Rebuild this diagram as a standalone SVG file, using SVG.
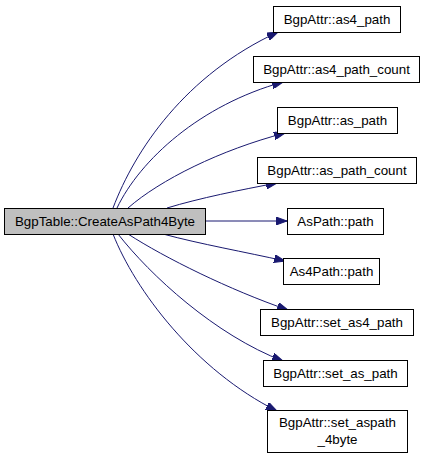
<svg xmlns="http://www.w3.org/2000/svg" width="425" height="458" viewBox="0 0 425 458">
<style>
.node rect{fill:#ffffff;stroke:#000000;stroke-width:1}
.node.main rect{fill:#bfbfbf}
.node text{font-family:"Liberation Sans",Arial,sans-serif;font-size:13.33px;text-anchor:middle;fill:#000000}
.edge{fill:none;stroke:#191970;stroke-width:1;marker-end:url(#arrow)}
</style>
<defs>
<marker id="arrow" markerUnits="userSpaceOnUse" markerWidth="11" markerHeight="8" refX="11" refY="4" orient="auto">
<path d="M0,0 L11,4 L0,8 z" fill="#191970" stroke="#191970" stroke-width="1"/>
</marker>
</defs>
<g id="connectors">
<path class="edge" d="M113,208 C135,150 185,75 278,32"/>
<path class="edge" d="M117,208 C140,160 200,105 283,82"/>
<path class="edge" d="M128,208 C160,180 220,150 285,133"/>
<path class="edge" d="M167,208 C200,198 240,190 277,183"/>
<path class="edge" d="M205,221 L287,221"/>
<path class="edge" d="M163,234 C200,244 245,252 285,261"/>
<path class="edge" d="M128,234 C165,258 230,290 288,310"/>
<path class="edge" d="M118,234 C150,275 215,335 283,361"/>
<path class="edge" d="M113,234 C135,290 195,370 277,411"/>
</g>
<g id="node-main" class="node main">
<rect x="4.5" y="208.5" width="201" height="26"/>
<text x="105" y="226">BgpTable::CreateAsPath4Byte</text>
</g>
<g id="node-as4_path" class="node">
<rect x="273.5" y="6.5" width="127" height="26"/>
<text x="337" y="24">BgpAttr::as4_path</text>
</g>
<g id="node-as4_path_count" class="node">
<rect x="253.5" y="56.5" width="166" height="26"/>
<text x="336.5" y="74">BgpAttr::as4_path_count</text>
</g>
<g id="node-as_path" class="node">
<rect x="277.5" y="107.5" width="120" height="26"/>
<text x="337.5" y="125">BgpAttr::as_path</text>
</g>
<g id="node-as_path_count" class="node">
<rect x="257.5" y="157.5" width="159" height="26"/>
<text x="337" y="175">BgpAttr::as_path_count</text>
</g>
<g id="node-AsPath_path" class="node">
<rect x="287.5" y="208.5" width="96" height="26"/>
<text x="335.5" y="226">AsPath::path</text>
</g>
<g id="node-As4Path_path" class="node">
<rect x="283.5" y="258.5" width="96" height="26"/>
<text x="331.5" y="276">As4Path::path</text>
</g>
<g id="node-set_as4_path" class="node">
<rect x="260.5" y="309.5" width="153" height="26"/>
<text x="337" y="327">BgpAttr::set_as4_path</text>
</g>
<g id="node-set_as_path" class="node">
<rect x="263.5" y="360.5" width="144" height="26"/>
<text x="335.5" y="378">BgpAttr::set_as_path</text>
</g>
<g id="node-set_aspath_4byte" class="node">
<rect x="267.5" y="410.5" width="140" height="42"/>
<text x="337.5" y="427">BgpAttr::set_aspath</text>
<text x="337.5" y="444">_4byte</text>
</g>
</svg>
